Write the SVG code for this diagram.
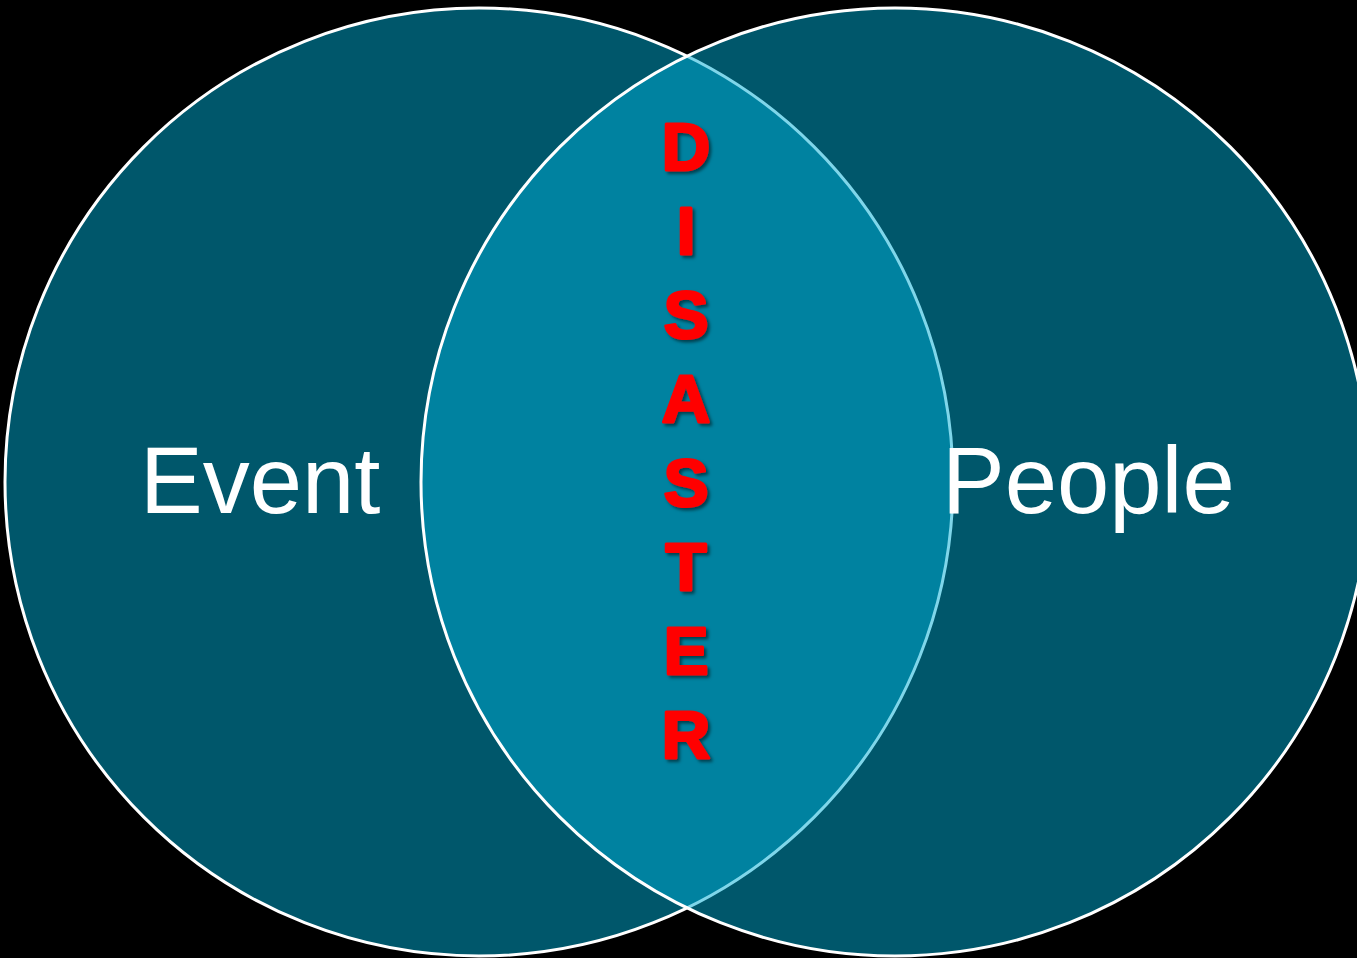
<svg xmlns="http://www.w3.org/2000/svg" width="1357" height="958" viewBox="0 0 1357 958">
<defs>
<style>
.c{fill:#00AED6;fill-opacity:0.5;stroke:#FFFFFF;stroke-width:3}
.lbl{font-family:"Liberation Sans",Arial,sans-serif;font-size:94px;fill:#FFFFFF}
.d{font-family:"Liberation Sans",Arial,sans-serif;font-weight:bold;font-size:67px;fill:#FF0000;stroke:#FF0000;stroke-width:3;stroke-linejoin:round;text-anchor:middle;filter:url(#sh)}
</style>
<filter id="sh" x="-30%" y="-30%" width="160%" height="160%">
<feDropShadow dx="2.5" dy="2.5" stdDeviation="1.5" flood-color="#000000" flood-opacity="0.5"/>
</filter>
</defs>
<rect width="1357" height="958" fill="#000000"/>
<g id="event">
<circle class="c" cx="479" cy="482" r="474"/>
<text class="lbl" x="140" y="513">Event</text>
</g>
<g id="people">
<circle class="c" cx="895" cy="482" r="474"/>
<text class="lbl" x="942" y="513">People</text>
</g>
<g id="disaster">
<text class="d" x="686" y="170">D</text>
<text class="d" x="686" y="254">I</text>
<text class="d" x="686" y="338">S</text>
<text class="d" x="686" y="422">A</text>
<text class="d" x="686" y="506">S</text>
<text class="d" x="686" y="590">T</text>
<text class="d" x="686" y="674">E</text>
<text class="d" x="686" y="758">R</text>
</g>
<g id="connectors"/>
</svg>
